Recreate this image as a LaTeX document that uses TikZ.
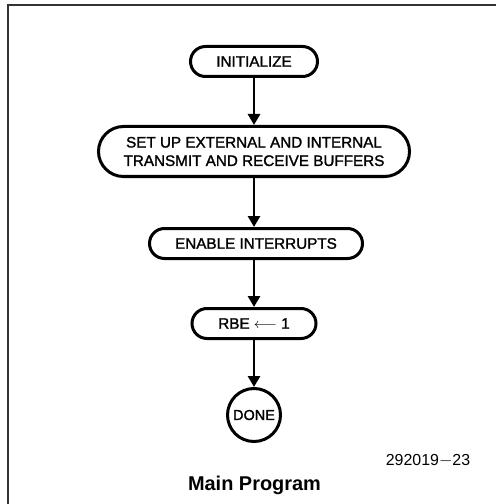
\documentclass[tikz,border=0pt]{standalone}
\usepackage{fontspec}
\setmainfont{Liberation Sans}
\newfontfamily\boxfont[FakeBold=1.5]{Liberation Sans}
\usetikzlibrary{arrows.meta,shapes.misc}

\tikzset{
  stepbox/.style={draw, line width=3bp, rounded rectangle, inner sep=0pt,
    font=\boxfont\fontsize{15.3}{18.5}\selectfont, align=center},
  endbox/.style={draw, line width=3bp, circle, inner sep=0pt,
    minimum size=53bp, font=\boxfont\fontsize{14.5}{16}\selectfont},
  flow/.style={line width=2.8bp, -{Triangle[width=12bp,length=11bp]}}
}

\begin{document}
\begin{tikzpicture}[x=1bp,y=-1bp]
\useasboundingbox (0,0) rectangle (496,504);
% frame
\draw[black!80, line width=2bp] (7.5,504) -- (7.5,5) -- (496,5);
% flowchart
\node[stepbox, minimum width=127bp, minimum height=30bp] (init) at (254,61.5) {INITIALIZE};
\node[stepbox, minimum width=311bp, minimum height=50bp] (bufs) at (254,151.5)
  {SET UP EXTERNAL AND INTERNAL\\TRANSMIT AND RECEIVE BUFFERS};
\node[stepbox, minimum width=213bp, minimum height=30bp] (ints) at (256,243.5) {ENABLE INTERRUPTS};
\node[stepbox, minimum width=124bp, minimum height=30bp] (rbe) at (254,323.5) {RBE $\longleftarrow$ 1};
\node[endbox] (done) at (254,415) {DONE};
\draw[flow] (init.south) -- (bufs.north);
\draw[flow] (bufs.south) -- (bufs.south |- ints.north);
\draw[flow] (ints.south -| rbe.north) -- (rbe.north);
\draw[flow] (rbe.south) -- (done.north);
% captions
\node[font=\fontsize{16}{18}\selectfont] (fignum) at (428,461) {292019$-$23};
\node[font=\fontsize{20}{22}\selectfont\bfseries] (title) at (254.5,485) {Main Program};
\end{tikzpicture}
\end{document}
